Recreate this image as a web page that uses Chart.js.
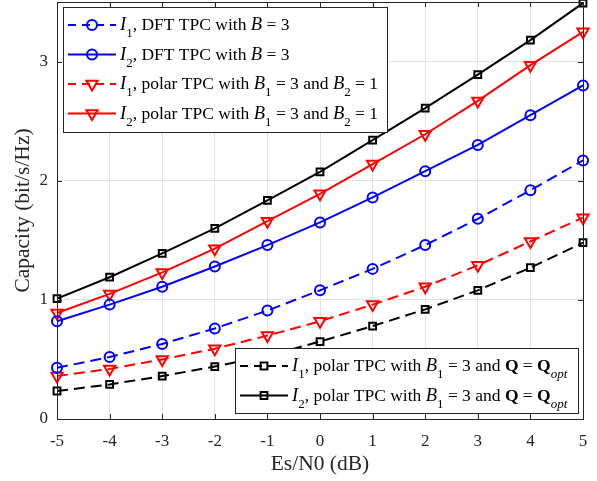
<!DOCTYPE html>
<html>
<head>
<meta charset="utf-8">
<script src="https://cdn.jsdelivr.net/npm/chart.js@4.4.1/dist/chart.umd.min.js"></script>
<style>
  html, body { margin: 0; padding: 0; background: #fff; }
  #wrap { width: 597px; height: 481px; }
</style>
</head>
<body>
<div id="wrap"><canvas id="cap"></canvas></div>
<script>
// ---------- dados ----------
const SNR = [-5, -4, -3, -2, -1, 0, 1, 2, 3, 4, 5];
const I1_DFT   = [0.43, 0.52, 0.63, 0.76, 0.91, 1.08, 1.26, 1.46, 1.68, 1.92, 2.17];
const I2_DFT   = [0.82, 0.96, 1.11, 1.28, 1.46, 1.65, 1.86, 2.08, 2.30, 2.55, 2.80];
const I1_POLAR = [0.36, 0.42, 0.50, 0.59, 0.70, 0.82, 0.96, 1.11, 1.29, 1.49, 1.69];
const I2_POLAR = [0.89, 1.05, 1.23, 1.43, 1.66, 1.89, 2.14, 2.39, 2.67, 2.97, 3.25];
const I1_QOPT  = [0.235, 0.29, 0.36, 0.44, 0.53, 0.65, 0.78, 0.92, 1.08, 1.27, 1.48];
const I2_QOPT  = [1.01, 1.19, 1.39, 1.60, 1.835, 2.075, 2.34, 2.61, 2.89, 3.18, 3.49];
const X_TICKS = [-5, -4, -3, -2, -1, 0, 1, 2, 3, 4, 5];
const Y_TICKS = [0, 1, 2, 3];
const X_TITLE = 'Es/N0 (dB)';
const Y_TITLE = 'Capacity (bit/s/Hz)';

// legenda em "rich text": [texto, tipo]  n=normal i=itálico b=negrito s=subscrito
const LEG_DFT1 = [['I', 'i'], ['1', 's'], [', DFT TPC with ', 'n'], ['B', 'i'], [' = 3', 'n']];
const LEG_DFT2 = [['I', 'i'], ['2', 's'], [', DFT TPC with ', 'n'], ['B', 'i'], [' = 3', 'n']];
const LEG_POL1 = [['I', 'i'], ['1', 's'], [', polar TPC with ', 'n'], ['B', 'i'], ['1', 's'], [' = 3 and ', 'n'], ['B', 'i'], ['2', 's'], [' = 1', 'n']];
const LEG_POL2 = [['I', 'i'], ['2', 's'], [', polar TPC with ', 'n'], ['B', 'i'], ['1', 's'], [' = 3 and ', 'n'], ['B', 'i'], ['2', 's'], [' = 1', 'n']];
const LEG_Q1 = [['I', 'i'], ['1', 's'], [', polar TPC with ', 'n'], ['B', 'i'], ['1', 's'], [' = 3 and ', 'n'], ['Q', 'b'], [' = ', 'n'], ['Q', 'b'], ['opt', 'si']];
const LEG_Q2 = [['I', 'i'], ['2', 's'], [', polar TPC with ', 'n'], ['B', 'i'], ['1', 's'], [' = 3 and ', 'n'], ['Q', 'b'], [' = ', 'n'], ['Q', 'b'], ['opt', 'si']];

(function () {
  const FONT = '"Liberation Serif", "Times New Roman", serif';
  const AX = '#262626';
  const GRID = '#e3e3e3';
  const BLUE = '#0000ff', RED = '#ff0000', BLACK = '#000000';
  const DASH = [11, 6];
  const NONE = 'rgba(0,0,0,0)';

  const pts = (ys) => SNR.map((x, i) => ({ x, y: ys[i] }));

  function ds(label, ys, color, dashed, style, legend) {
    const m = { circle: { r: 5, rot: 0 }, triangle: { r: 6.5, rot: 180 }, rect: { r: 4.8, rot: 0 } }[style];
    return {
      label, data: pts(ys), borderColor: color, backgroundColor: NONE,
      borderWidth: 2, borderDash: dashed ? DASH : [], tension: 0,
      pointStyle: style, pointRadius: m.r, pointRotation: m.rot, pointBorderWidth: 2,
      pointBorderColor: color, pointBackgroundColor: NONE, pointHoverRadius: m.r,
      clip: false, _legend: legend,
    };
  }

  const datasets = [
    ds('I1 DFT', I1_DFT, BLUE, true, 'circle', LEG_DFT1),
    ds('I2 DFT', I2_DFT, BLUE, false, 'circle', LEG_DFT2),
    ds('I1 polar', I1_POLAR, RED, true, 'triangle', LEG_POL1),
    ds('I2 polar', I2_POLAR, RED, false, 'triangle', LEG_POL2),
    ds('I1 Qopt', I1_QOPT, BLACK, true, 'rect', LEG_Q1),
    ds('I2 Qopt', I2_QOPT, BLACK, false, 'rect', LEG_Q2),
  ];

  // ---------- helpers de desenho ----------
  function drawRich(ctx, x, y, segs) {
    ctx.textBaseline = 'alphabetic';
    ctx.textAlign = 'left';
    ctx.fillStyle = BLACK;
    for (const [t, k] of segs) {
      const sub = k.includes('s'), it = k.includes('i'), bd = k.includes('b');
      const size = sub ? 13 : (it ? 18.5 : 17.5);
      ctx.font = (it ? 'italic ' : '') + (bd ? 'bold ' : '') + size + 'px ' + FONT;
      ctx.fillText(t, x, y + (sub ? 7 : 0));
      x += ctx.measureText(t).width;
    }
  }

  function drawLegendBox(chart, box, items) {
    const ctx = chart.ctx;
    ctx.save();
    ctx.fillStyle = '#fff';
    ctx.fillRect(box.x, box.y, box.w, box.h);
    ctx.strokeStyle = AX; ctx.lineWidth = 1; ctx.setLineDash([]);
    ctx.strokeRect(Math.round(box.x) + 0.5, Math.round(box.y) + 0.5, box.w, box.h);
    items.forEach((idx, r) => {
      const d = chart.data.datasets[idx];
      const yy = box.y + box.row0 + r * box.rowH;
      const x0 = box.x + 5, x1 = x0 + 48, xm = (x0 + x1) / 2;
      ctx.strokeStyle = d.borderColor; ctx.lineWidth = 2;
      ctx.setLineDash(d.borderDash.length ? [8, 6] : []);
      ctx.beginPath(); ctx.moveTo(x0, yy); ctx.lineTo(x1, yy); ctx.stroke();
      ctx.setLineDash([]);
      ctx.fillStyle = NONE;
      Chart.helpers.drawPoint(ctx, { pointStyle: d.pointStyle, rotation: d.pointRotation, radius: d.pointRadius, borderWidth: 2 }, xm, yy);
      drawRich(ctx, x1 + 4, yy + 5, d._legend);
    });
    ctx.restore();
  }

  // caixa do eixo + ticks para dentro (estilo MATLAB) + legendas
  const frame = {
    id: 'frame',
    afterDatasetsDraw(chart) {
      const { ctx, chartArea: a, scales: { x, y } } = chart;
      ctx.save();
      ctx.strokeStyle = AX; ctx.lineWidth = 1; ctx.setLineDash([]);
      ctx.beginPath();
      X_TICKS.forEach((v) => {
        const px = Math.round(x.getPixelForValue(v)) + 0.5;
        ctx.moveTo(px, a.bottom); ctx.lineTo(px, a.bottom - 5);
        ctx.moveTo(px, a.top); ctx.lineTo(px, a.top + 5);
      });
      Y_TICKS.forEach((v) => {
        const py = Math.round(y.getPixelForValue(v)) + 0.5;
        ctx.moveTo(a.left, py); ctx.lineTo(a.left + 5, py);
        ctx.moveTo(a.right, py); ctx.lineTo(a.right - 5, py);
      });
      ctx.stroke();
      ctx.strokeRect(Math.round(a.left) + 0.5, Math.round(a.top) + 0.5, Math.round(a.right - a.left), Math.round(a.bottom - a.top));
      ctx.restore();

      drawLegendBox(chart, { x: a.left + 6, y: a.top + 5, w: 324, h: 125, row0: 18, rowH: 29.5 }, [0, 1, 2, 3]);
      drawLegendBox(chart, { x: a.right - 348, y: a.bottom - 71, w: 343, h: 65, row0: 18, rowH: 29.5 }, [4, 5]);
    },
  };

  new Chart(document.getElementById('cap'), {
    type: 'line',
    data: { datasets },
    options: {
      responsive: true, maintainAspectRatio: false, animation: false,
      layout: { autoPadding: false, padding: { top: 2, right: 14, left: 0, bottom: 0 } },
      plugins: { legend: { display: false }, tooltip: { enabled: false } },
      scales: {
        x: {
          type: 'linear', min: -5, max: 5,
          afterBuildTicks: (s) => { s.ticks = X_TICKS.map((v) => ({ value: v })); },
          afterFit: (s) => { s.height = 62; s.paddingLeft = 0; s.paddingRight = 0; },
          ticks: { color: AX, font: { family: FONT, size: 17 }, padding: 12, maxRotation: 0, autoSkip: false },
          grid: { color: GRID, drawTicks: false },
          border: { display: false },
          title: { display: true, text: X_TITLE, color: AX, font: { family: FONT, size: 21.5 }, padding: { top: 0, bottom: 4 } },
        },
        y: {
          type: 'linear', min: 0, max: 3.5,
          afterBuildTicks: (s) => { s.ticks = Y_TICKS.map((v) => ({ value: v })); },
          afterFit: (s) => { s.width = 57; s.paddingTop = 0; s.paddingBottom = 0; },
          ticks: { color: AX, font: { family: FONT, size: 17 }, padding: 9 },
          grid: { color: GRID, drawTicks: false },
          border: { display: false },
          title: { display: true, text: Y_TITLE, color: AX, font: { family: FONT, size: 21.5 }, padding: { top: 10, bottom: 0 } },
        },
      },
    },
    plugins: [frame],
  });
})();
</script>
</body>
</html>
